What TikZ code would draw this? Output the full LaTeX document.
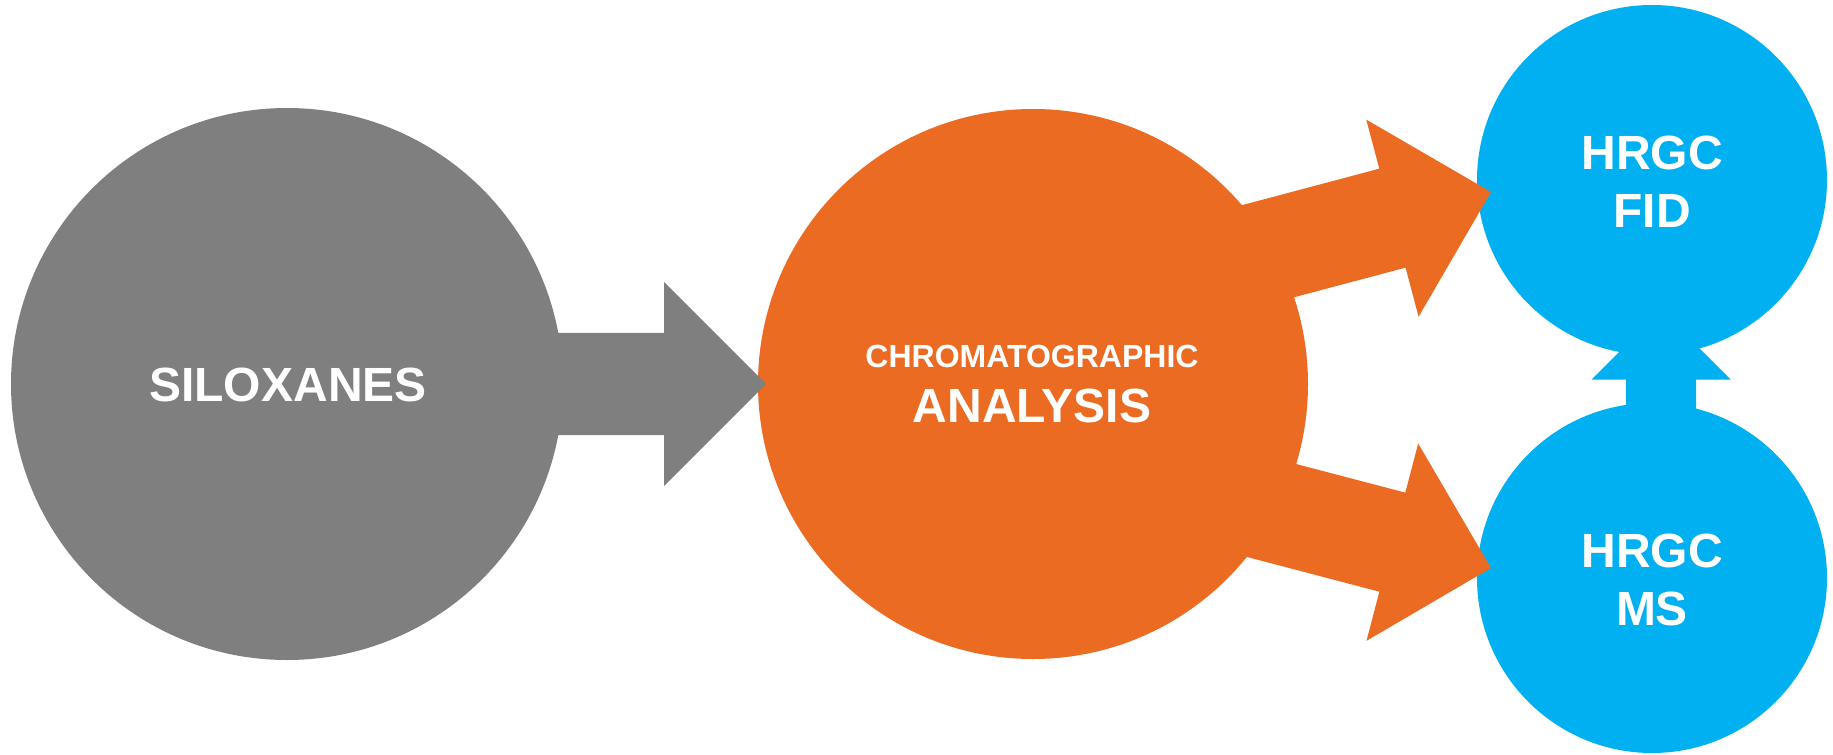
\documentclass[tikz,border=0pt]{standalone}
\usepackage{fontspec}
\setmainfont{Liberation Sans}
\usetikzlibrary{calc}
\definecolor{sxgray}{RGB}{127,127,127}
\definecolor{sxorange}{RGB}{236,107,35}
\definecolor{sxblue}{RGB}{0,176,240}
% #1 fill colour, #2 tail, #3 tip, #4 half shaft width, #5 head length (= half head width)
\newcommand{\blockarrowpath}[5]{%
  \coordinate (#3-hb) at ($(#3)!#5!(#2)$);
  \fill[#1] (#3)
    -- ($(#3-hb)!#5!90:(#3)$)
    -- ($(#3-hb)!#4!90:(#3)$)
    -- ($(#2)!#4!90:(#3)$)
    -- ($(#2)!#4!-90:(#3)$)
    -- ($(#3-hb)!#4!-90:(#3)$)
    -- ($(#3-hb)!#5!-90:(#3)$)
    -- cycle;
}
\begin{document}
\begin{tikzpicture}[x=0.5pt,y=-0.5pt,
  bubble/.style={circle, inner sep=0pt, outer sep=0pt},
  lbl/.style={text=white, font=\bfseries\fontsize{24}{28.8}\selectfont, align=center, inner sep=0pt}]
\useasboundingbox (0,0) rectangle (1833,755);
% circles
\node[bubble, fill=sxgray, minimum size=276pt] (sil) at (287,384) {};
\node[bubble, fill=sxorange, minimum size=275pt] (chrom) at (1033,384) {};
\node[bubble, fill=sxblue, minimum size=175pt] (fid) at (1652,180) {};
\node[bubble, fill=sxblue, minimum size=175pt] (ms) at (1652,578) {};
% arrow ends
\coordinate (a1tail) at ($(sil.center)+(180,0)$);
\coordinate (a1tip) at ($(chrom.west)+(8,0)$);
\coordinate (a2tail) at ($(chrom.center)+(168,-115)$);
\coordinate (a2tip) at ($(fid.west)+(14,12)$);
\coordinate (a3tail) at ($(chrom.center)+(168,108)$);
\coordinate (a3tip) at ($(ms.west)+(14,-10)$);
\coordinate (a4tail) at ($(ms.center)+(9,-80)$);
\coordinate (a4tip) at ($(fid.south)+(9,-45)$);
% block arrows
\blockarrowpath{sxgray}{a1tail}{a1tip}{25.6pt}{51pt}
\blockarrowpath{sxorange}{a2tail}{a2tip}{25.6pt}{51pt}
\blockarrowpath{sxorange}{a3tail}{a3tip}{25.6pt}{51pt}
\blockarrowpath{sxblue}{a4tail}{a4tip}{17.5pt}{34.75pt}
% labels
\node[lbl] (silt) at (288,385) {SILOXANES};
\node[lbl, font=\bfseries\fontsize{24}{27.5}\selectfont] (chromt) at (1032,384) {{\fontsize{16}{19}\selectfont CHROMATOGRAPHIC}\\ANALYSIS};
\node[lbl] (fidt) at (1652,182) {HRGC\\FID};
\node[lbl] (mst) at (1652,580) {HRGC\\MS};
\end{tikzpicture}
\end{document}
